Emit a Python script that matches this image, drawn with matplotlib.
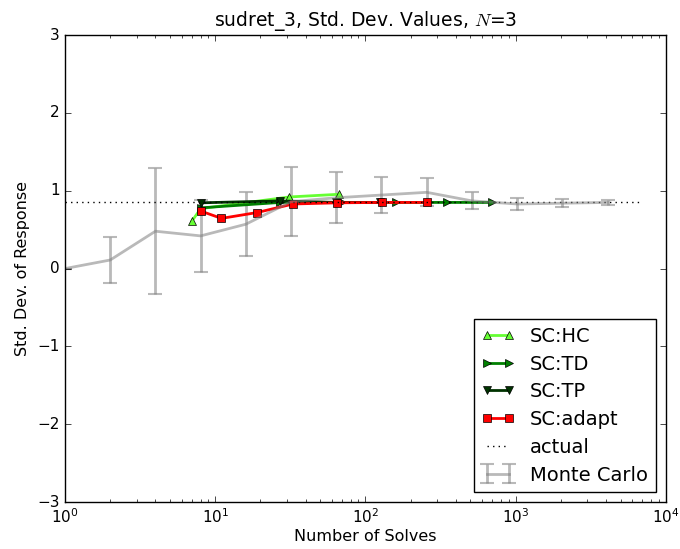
import matplotlib
matplotlib.use("Agg")
import matplotlib.pyplot as plt
import numpy as np

plt.style.use('classic')

# Monte Carlo estimates (mean +/- error)
mc_n = [1, 2, 4, 8, 16, 32, 64, 128, 256, 512, 1024, 2048, 4096]
mc_std = [0.0, 0.11, 0.48, 0.42, 0.57, 0.86, 0.91, 0.945, 0.98, 0.87, 0.83, 0.84, 0.85]
mc_err = [0.0, 0.30, 0.81, 0.46, 0.41, 0.445, 0.33, 0.235, 0.18, 0.11, 0.08, 0.05, 0.035]

hc_n = [7, 8, 31, 67]
hc_std = [0.61, 0.77, 0.92, 0.955]

td_n = [8, 27, 70, 161, 350, 700]
td_std = [0.78, 0.85, 0.85, 0.85, 0.85, 0.85]

tp_n = [8, 27, 64, 125]
tp_std = [0.845, 0.87, 0.85, 0.85]

ad_n = [8, 11, 19, 33, 65, 130, 258]
ad_std = [0.74, 0.645, 0.72, 0.83, 0.845, 0.85, 0.85]

actual_n = [1, 7000]
actual_std = 0.85

fig = plt.figure(figsize=(6.8, 5.49), dpi=100)
ax = fig.add_subplot(111)
fig.subplots_adjust(left=0.0956, right=0.979, bottom=0.0856, top=0.936)

mc = ax.errorbar(mc_n, mc_std, yerr=mc_err, color='gray', alpha=0.55, lw=2,
                 capsize=5, mew=1.5, label='Monte Carlo')
l1, = ax.plot(hc_n, hc_std, '-^', color='#66ff33', mfc='#66ff33', mec='k',
              lw=2, ms=6, label='SC:HC')
l2, = ax.plot(td_n, td_std, '->', color='#008000', mfc='#008000', mec='k',
              lw=2, ms=6, label='SC:TD')
l3, = ax.plot(tp_n, tp_std, '-v', color='#003300', mfc='#003300', mec='k',
              lw=2, ms=6, label='SC:TP')
l4, = ax.plot(ad_n, ad_std, '-s', color='red', mfc='red', mec='k',
              lw=2, ms=6, label='SC:adapt')
l5, = ax.plot(actual_n, [actual_std] * len(actual_n), 'k:', lw=1, label='actual')

ax.set_xscale('log')
ax.set_xlim(1, 1e4)
ax.set_ylim(-3, 3)
ax.set_xlabel('Number of Solves', fontsize=11.5, labelpad=2)
ax.set_ylabel('Std. Dev. of Response', fontsize=11.5)
ax.set_title('sudret_3, Std. Dev. Values, $N$=3', fontsize=13.5, y=1.005)
ax.tick_params(labelsize=11)
ax.legend([l1, l2, l3, l4, l5, mc],
          ['SC:HC', 'SC:TD', 'SC:TP', 'SC:adapt', 'actual', 'Monte Carlo'],
          loc='lower right', fontsize=14, numpoints=2, handlelength=1.7,
          labelspacing=0.45)

fig.savefig('out.png', dpi=100)
